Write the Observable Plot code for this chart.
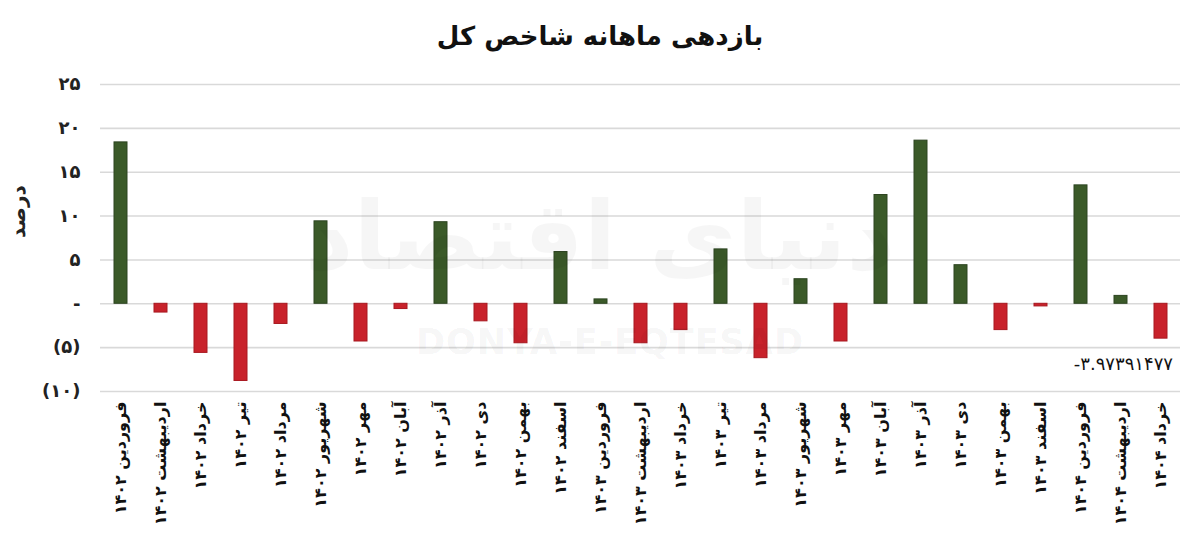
<!DOCTYPE html>
<html>
<head>
<meta charset="utf-8">
<script src="https://cdn.jsdelivr.net/npm/d3@7"></script>
<script src="https://cdn.jsdelivr.net/npm/@observablehq/plot@0.6"></script>
<style>
  body { margin: 0; background: #fff; }
  #title { height: 66px; display: flex; align-items: center; justify-content: center;
    font-family: "DejaVu Sans", sans-serif; font-weight: bold; font-size: 26px; color: #111; direction: rtl; padding-top: 6px; box-sizing: border-box; }
  #chart { position: relative; }
  #wm1 { position: absolute; left: 10px; width: 1200px; text-align: center; top: 256px; font-family: "DejaVu Sans", sans-serif; font-weight: bold; font-size: 35px; color: rgba(0,0,0,0.055); letter-spacing: 1px; }
  #wm2 { position: absolute; left: 0; width: 1200px; text-align: center; top: 115px; font-family: "DejaVu Sans", sans-serif; font-weight: bold; font-size: 95px; color: rgba(0,0,0,0.035); direction: rtl; }
</style>
</head>
<body>
<div id="title">بازدهی ماهانه شاخص کل</div>
<div id="chart"><div id="wm2">دنیای اقتصاد</div><div id="wm1">DONYA-E-EQTESAD</div></div>
<script>
const categories = [
  "فروردین ۱۴۰۲", "اردیبهشت ۱۴۰۲", "خرداد ۱۴۰۲", "تیر ۱۴۰۲", "مرداد ۱۴۰۲", "شهریور ۱۴۰۲",
  "مهر ۱۴۰۲", "آبان ۱۴۰۲", "آذر ۱۴۰۲", "دی ۱۴۰۲", "بهمن ۱۴۰۲", "اسفند ۱۴۰۲",
  "فروردین ۱۴۰۳", "اردیبهشت ۱۴۰۳", "خرداد ۱۴۰۳", "تیر ۱۴۰۳", "مرداد ۱۴۰۳", "شهریور ۱۴۰۳",
  "مهر ۱۴۰۳", "آبان ۱۴۰۳", "آذر ۱۴۰۳", "دی ۱۴۰۳", "بهمن ۱۴۰۳", "اسفند ۱۴۰۳",
  "فروردین ۱۴۰۴", "اردیبهشت ۱۴۰۴", "خرداد ۱۴۰۴"
];
const values = [
  18.4, -1.0, -5.6, -8.8, -2.3, 9.4,
  -4.3, -0.6, 9.3, -2.0, -4.5, 5.9,
  0.5, -4.5, -3.0, 6.2, -6.2, 2.8,
  -4.3, 12.4, 18.6, 4.4, -3.0, -0.3,
  13.5, 0.9, -3.97391477
];
const yTicks = [-10, -5, 0, 5, 10, 15, 20, 25];
const yLabel = "درصد";

const faDigits = "۰۱۲۳۴۵۶۷۸۹";
const toFa = s => String(s).replace(/[0-9]/g, d => faDigits[+d]);
const yFormat = v => v === 0 ? "-" : v < 0 ? "(" + toFa(-v) + ")" : toFa(v);

const data = categories.map((c, i) => ({cat: c, value: values[i]}));
const last = [data[data.length - 1]];

const fontFa = "'DejaVu Sans', sans-serif";

const chart = Plot.plot({
  width: 1200,
  height: 470,
  marginTop: 18,
  marginBottom: 145,
  marginLeft: 100,
  marginRight: 20,
  style: {fontFamily: fontFa, background: "transparent", overflow: "visible"},
  x: {domain: categories, paddingInner: 0.675, paddingOuter: 0.3375, label: null},
  y: {domain: [-10, 25], label: null},
  marks: [
    Plot.ruleY(yTicks, {stroke: "#d9d9d9", strokeWidth: 1.6}),
    Plot.axisY({ticks: yTicks, tickFormat: yFormat, tickSize: 0, tickPadding: 20,
      fontSize: 18, fontWeight: "bold", fill: "#222", label: null}),
    Plot.axisX({tickSize: 0, tickPadding: 10, tickRotate: -90, fontSize: 16, fontWeight: "bold", fill: "#111", label: null}),
    Plot.barY(data, {x: "cat", y: "value",
      fill: d => d.value >= 0 ? "#3b5a29" : "#c8222b",
      stroke: d => d.value >= 0 ? "#2c4420" : "#a81820",
      strokeWidth: 1}),
    Plot.text(last, {x: "cat", y: "value", text: d => "-" + toFa(Math.abs(d.value).toFixed(8)),
      textAnchor: "end", dx: 12, dy: 26, fontSize: 18, fill: "#111", fontFamily: fontFa}),
    Plot.text([yLabel], {frameAnchor: "left", dx: -82, rotate: -90, fontSize: 20,
      fontWeight: "bold", fill: "#222", fontFamily: fontFa})
  ]
});
document.getElementById("chart").appendChild(chart);
</script>
</body>
</html>
